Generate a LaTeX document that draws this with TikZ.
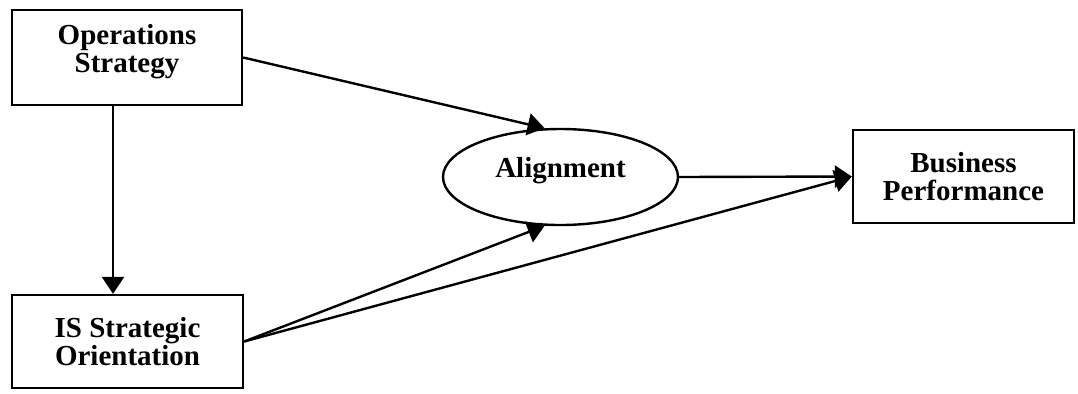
\documentclass[tikz,border=0pt]{standalone}
\usepackage{fontspec}
\setmainfont{Liberation Serif}
\usepackage{tikz}
\usetikzlibrary{arrows.meta,positioning,shapes.geometric}

\begin{document}
\begin{tikzpicture}[x=0.5pt,y=-0.5pt,
 box/.style={draw=black,line width=1.2pt,align=center,font=\fontsize{14.5}{14}\selectfont\bfseries,
              inner sep=0pt},
 oval/.style={box,ellipse},
 arrow/.style={-{Triangle[length=8.5pt,width=11pt]},line width=1.2pt,draw=black}]
\useasboundingbox (0,0) rectangle (1078,393);
\node[box,minimum width=115pt,minimum height=47.5pt] (ops) at (127,57.5) {Operations\\Strategy\\[-9pt]\strut};
\node[box,minimum width=115.5pt,minimum height=46.5pt] (isor) at (127.5,341.5) {IS Strategic\\Orientation};
\node[oval,minimum width=117.5pt,minimum height=48pt] (align) at (560.5,177) {Alignment\\[-9pt]\strut};
\node[box,minimum width=110.5pt,minimum height=46.5pt] (perf) at (963.5,176.5) {Business\\Performance};
\draw[arrow] ([xshift=-7pt]ops.south)--([xshift=-7pt]ops.south |- isor.north);
\draw[arrow] (ops.east)--(align.108);
\draw[arrow] (isor.east)--(align.252);
\draw[arrow] (isor.east)--(perf.west);
\draw[arrow] (align.east)--(perf.west);
\end{tikzpicture}
\end{document}
